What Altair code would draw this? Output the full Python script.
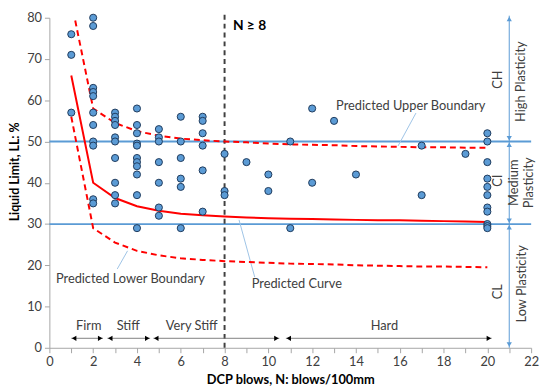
import altair as alt
import pandas as pd

# ---------------- data ----------------
blows = [1, 1, 1,
         2, 2, 2, 2, 2, 2, 2, 2, 2, 2, 2,
         3, 3, 3, 3, 3, 3, 3, 3, 3, 3,
         4, 4, 4, 4, 4, 4, 4, 4, 4, 4, 4,
         5, 5, 5, 5, 5, 5, 5,
         6, 6, 6, 6, 6, 6,
         7, 7, 7, 7, 7, 7,
         8, 8, 8,
         9,
         10, 10,
         11, 11,
         12, 12,
         13,
         14,
         17, 17,
         19,
         20, 20, 20, 20, 20, 20, 20, 20, 20, 20, 20]
liquid_limit = [76, 71, 57,
                80, 78, 63, 62, 61, 57, 54, 50, 49, 36, 35,
                57, 56, 55, 54, 51, 50, 46, 40, 37, 35,
                58, 54, 52, 49.5, 49, 46, 45, 44, 42, 37, 29,
                53, 51, 50, 45, 40, 34, 32,
                56, 50, 46, 41, 39, 29,
                56, 55, 52, 49, 43, 33,
                47, 38, 37,
                45,
                42, 38,
                50, 29,
                58, 40,
                55,
                42,
                49, 37,
                47,
                52, 50, 45, 41, 39, 37, 34, 33, 30, 29.5, 29]

curve_n = list(range(1, 21))
predicted = [66, 40, 36.3, 34.3, 33.2, 32.5, 32.1, 31.8, 31.6, 31.4,
             31.3, 31.2, 31.1, 31.0, 30.9, 30.9, 30.8, 30.7, 30.6, 30.5]
upper = [84, 58, 54.5, 52.5, 51.4, 50.7, 50.3, 50.0, 49.8, 49.5,
         49.3, 49.2, 49.1, 48.9, 48.8, 48.7, 48.6, 48.6, 48.5, 48.5]
lower = [56, 29, 25.5, 23.5, 22.4, 21.7, 21.3, 21.0, 20.8, 20.6,
         20.4, 20.3, 20.2, 20.0, 19.9, 19.8, 19.7, 19.7, 19.6, 19.5]

plasticity_limits = [30, 50]
n_threshold = 8

cons_labels = ["Firm", "Stiff", "Very Stiff", "Hard"]
cons_start = [1.0, 2.65, 4.75, 10.8]
cons_end = [2.45, 4.6, 10.5, 20.2]
cons_label_x = [1.8, 3.6, 6.5, 15.3]

plast_codes = ["CH", "CI", "CL"]
plast_low = [50, 30, 0]
plast_high = [80.5, 50, 30]
plast_code_y = [65, 40.5, 13.6]
plast_names = ["High Plasticity", "Medium", "Plasticity", "Low Plasticity"]
plast_name_x = [21.55, 21.2, 21.9, 21.6]
plast_name_y = [64.5, 40, 40, 15.5]

ann_text = ["Predicted Upper Boundary", "Predicted Lower Boundary", "Predicted Curve"]
ann_x = [16.5, 3.7, 11.3]
ann_y = [58.6, 16.7, 15.5]
lead_x = [16.74, 3.1, 9.38]
lead_y = [56.9, 19.1, 17.1]
lead_x2 = [15.92, 3.57, 8.66]
lead_y2 = [48.9, 23.5, 31.0]

# ---------------- styling helpers ----------------
FONT = "Lato"
BLUE = "#5B9BD5"
xs = alt.Scale(domain=[0, 22], nice=False, zero=False)
ys = alt.Scale(domain=[0, 80], nice=False, zero=False)

xaxis = alt.Axis(values=list(range(0, 23)),
                 labelExpr="datum.value % 2 == 0 ? datum.label : ''",
                 title="DCP blows, N: blows/100mm", grid=False,
                 domainColor="#A6A6A6", tickColor="#A6A6A6", tickSize=5,
                 labelFont=FONT, labelFontSize=13, labelColor="#404040",
                 labelFlush=False, labelOverlap=False, labelPadding=3,
                 titleFont=FONT, titleFontSize=13, titleFontWeight="bold",
                 titleColor="#000000", titleY=32, titleBaseline="middle")
yaxis = alt.Axis(values=list(range(0, 81, 10)), title="Liquid Limit, LL: %",
                 grid=False, domainColor="#A6A6A6", tickColor="#A6A6A6",
                 tickSize=5, labelFont=FONT, labelFontSize=13,
                 labelColor="#404040", labelFlush=False, labelPadding=3,
                 titleFont=FONT, titleFontSize=12.5, titleFontWeight="bold",
                 titleColor="#000000", titleX=-35.5, titleY=156,
                 titleBaseline="middle")


def X(f):
    return alt.X(f, type="quantitative", scale=xs, axis=xaxis)


def Y(f):
    return alt.Y(f, type="quantitative", scale=ys, axis=yaxis)


# ---------------- tables ----------------
pts = pd.DataFrame({"n": blows, "ll": liquid_limit})
curves = pd.DataFrame({"n": curve_n, "pred": predicted, "up": upper, "lo": lower})
limits = pd.DataFrame({"ll": plasticity_limits, "x0": 0, "x1": 22})
thr = pd.DataFrame({"n": [n_threshold], "y0": [0], "y1": [80.8]})
cons = pd.DataFrame({"label": cons_labels, "s": cons_start, "e": cons_end,
                     "lx": cons_label_x, "y": 2.3, "ly": 5.3})
cons["hs"] = cons["s"] + 0.13
cons["he"] = cons["e"] - 0.13
plast = pd.DataFrame({"code": plast_codes, "lo": plast_low, "hi": plast_high,
                      "cy": plast_code_y, "x": 21.0, "cx": 20.5})
plast["htop"] = plast["hi"] - 0.8
plast["hbot"] = plast["lo"] + 0.8
pnames = pd.DataFrame({"t": plast_names, "x": plast_name_x, "y": plast_name_y})
ann = pd.DataFrame({"t": ann_text, "x": ann_x, "y": ann_y})
lead = pd.DataFrame({"x": lead_x, "y": lead_y, "x2": lead_x2, "y2": lead_y2})

# ---------------- layers ----------------
lim_layer = alt.Chart(limits).mark_rule(color=BLUE, strokeWidth=1.8).encode(
    x=X("x0"), x2="x1", y=Y("ll"))

thr_layer = alt.Chart(thr).mark_rule(color="#404040", strokeWidth=2,
                                      strokeDash=[5, 4]).encode(
    x=X("n"), y=Y("y0"), y2="y1")

thr_text = alt.Chart(pd.DataFrame({"t": ["N  \u2265 8"], "x": [n_threshold + 0.38], "y": [77.9]})).mark_text(
    font=FONT, fontSize=14, fontWeight="bold", color="#000000", align="left",
    baseline="middle").encode(x=X("x"), y=Y("y"), text="t")

lead_layer = alt.Chart(lead).mark_rule(color="#9DC3E6", strokeWidth=1).encode(
    x=X("x"), y=Y("y"), x2="x2", y2="y2")

up_layer = alt.Chart(curves).mark_line(color="#FF0000", strokeWidth=2,
                                       strokeDash=[6, 4], clip=True).encode(
    x=X("n"), y=Y("up"))
lo_layer = alt.Chart(curves).mark_line(color="#FF0000", strokeWidth=2,
                                       strokeDash=[6, 4]).encode(
    x=X("n"), y=Y("lo"))
pred_layer = alt.Chart(curves).mark_line(color="#FF0000", strokeWidth=2).encode(
    x=X("n"), y=Y("pred"))

pts_layer = alt.Chart(pts).mark_point(shape="circle", filled=True, size=52,
                                      fill=BLUE, stroke="#1F3B5C",
                                      strokeWidth=1, opacity=1).encode(
    x=X("n"), y=Y("ll"))

ann_layer = alt.Chart(ann).mark_text(font=FONT, fontSize=13, color="#404040",
                                     baseline="middle").encode(
    x=X("x"), y=Y("y"), text="t")

cons_line = alt.Chart(cons).mark_rule(color="#808080", strokeWidth=1).encode(
    x=X("s"), x2="e", y=Y("y"))
cons_hl = alt.Chart(cons).mark_point(shape="triangle-left", filled=True, size=28,
                                     color="#000000", opacity=1).encode(
    x=X("hs"), y=Y("y"))
cons_hr = alt.Chart(cons).mark_point(shape="triangle-right", filled=True, size=28,
                                     color="#000000", opacity=1).encode(
    x=X("he"), y=Y("y"))
cons_txt = alt.Chart(cons).mark_text(font=FONT, fontSize=13, color="#404040",
                                     baseline="middle").encode(
    x=X("lx"), y=Y("ly"), text="label")

pl_line = alt.Chart(plast).mark_rule(color=BLUE, strokeWidth=1).encode(
    x=X("x"), y=Y("lo"), y2="hi")
pl_up = alt.Chart(plast).mark_point(shape="triangle-up", filled=True, size=28,
                                    color=BLUE, opacity=1).encode(
    x=X("x"), y=Y("htop"))
pl_dn = alt.Chart(plast).mark_point(shape="triangle-down", filled=True, size=28,
                                    color=BLUE, opacity=1).encode(
    x=X("x"), y=Y("hbot"))
pl_code = alt.Chart(plast).mark_text(font=FONT, fontSize=13, color="#404040",
                                     angle=270, baseline="middle").encode(
    x=X("cx"), y=Y("cy"), text="code")
pl_name = alt.Chart(pnames).mark_text(font=FONT, fontSize=13, color="#404040",
                                      angle=270, baseline="middle").encode(
    x=X("x"), y=Y("y"), text="t")

chart = alt.layer(
    lim_layer, thr_layer, lead_layer, up_layer, lo_layer, pred_layer,
    pts_layer, ann_layer, thr_text, cons_line, cons_hl, cons_hr, cons_txt,
    pl_line, pl_up, pl_dn, pl_code, pl_name
).properties(
    width=489, height=335,
    autosize=alt.AutoSizeParams(type="none"),
    padding={"left": 42, "top": 7, "right": 10, "bottom": 42},
    background="#FFFFFF"
).configure_view(stroke=None)

chart.save("out.html", embed_options={"renderer": "svg", "actions": False})
